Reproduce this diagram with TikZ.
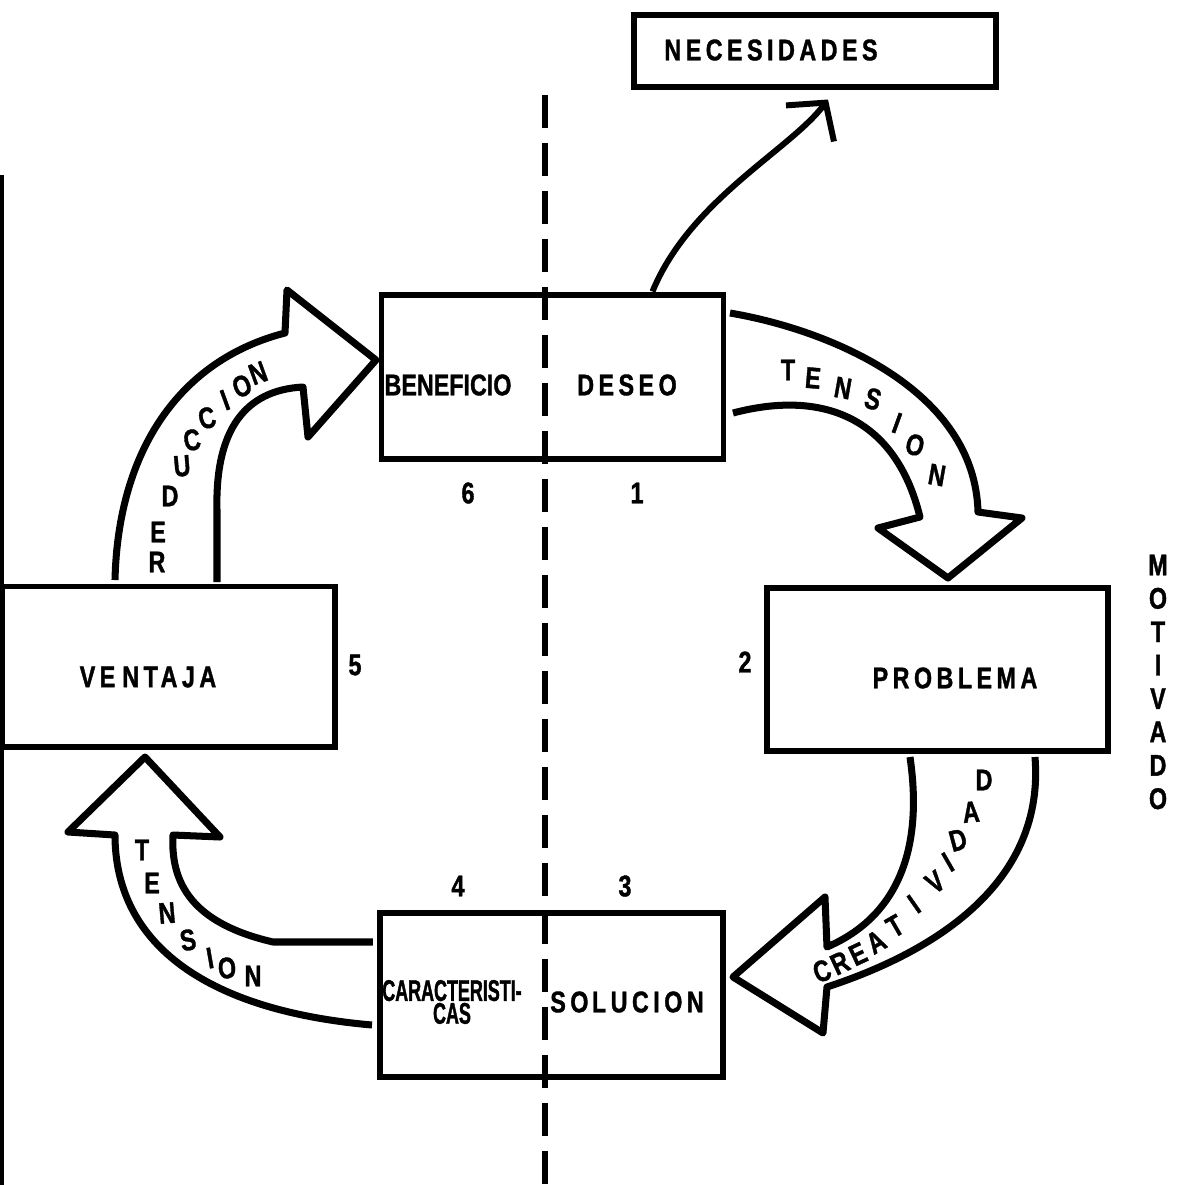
\documentclass[tikz,border=0pt]{standalone}
\usepackage{fontspec}
\newfontfamily\labfont[FakeStretch=0.78,BoldFeatures={FakeBold=1.2}]{Liberation Sans}
\newfontfamily\spacedfont[FakeStretch=0.78,LetterSpace=15,BoldFeatures={FakeBold=1.2}]{Liberation Sans}
\newfontfamily\tightfont[FakeStretch=0.6,BoldFeatures={FakeBold=1.2}]{Liberation Sans}
\usetikzlibrary{arrows.meta}

\begin{document}
\begin{tikzpicture}[
    box/.style={draw, line width=1.7pt, inner sep=0pt},
    txt/.style={inner sep=1pt, font=\fontsize{8.5}{9}\selectfont\labfont\bfseries},
    stxt/.style={inner sep=1pt, font=\fontsize{8.5}{9}\selectfont\spacedfont\bfseries},
    letter/.style={inner sep=0pt, font=\fontsize{8.5}{9}\selectfont\labfont\bfseries},
    hollow/.style={line width=2pt, line join=round},
    dashline/.style={line width=1.5pt, dash pattern=on 3.3mm off 1.5mm}]
  \useasboundingbox (0,0) rectangle (11.82,-11.85);

  % boxes
  \node[box, minimum width=3.62cm, minimum height=0.72cm] (nec) at (8.15,-0.505) {};
  \node[box, minimum width=3.42cm, minimum height=1.64cm] (top) at (5.525,-3.765) {};
  \node[box, minimum width=3.33cm, minimum height=1.60cm] (ventaja) at (1.685,-6.665) {};
  \node[box, minimum width=3.41cm, minimum height=1.63cm] (problema) at (9.375,-6.695) {};
  \node[box, minimum width=3.43cm, minimum height=1.64cm] (bottom) at (5.515,-9.95) {};

  % texts
  \node[stxt] (nectxt) at (7.71,-0.50) {NECESIDADES};
  \node[txt] (beneficio) at (4.48,-3.85) {BENEFICIO};
  \node[stxt] (deseo) at (6.27,-3.85) {DESEO};
  \node[stxt] (ventajatxt) at (1.48,-6.77) {VE\hspace{2pt}NTAJA};
  \node[stxt] (problematxt) at (9.55,-6.78) {PROBLEMA};
  \node[txt, font=\fontsize{8.5}{6.5}\selectfont\tightfont\bfseries, align=center] (caract) at (4.52,-10.02) {CARACTERISTI-\\CAS};
  \node[stxt] (solucion) at (6.27,-10.02) {SO\hspace{1pt}LUCION};
  \node[txt, align=center, font=\fontsize{8.5}{9.5}\selectfont\labfont\bfseries] (motivado) at (11.58,-6.82)
    {M\\O\\T\\I\\V\\A\\D\\O};

  % numbers
  \node[txt] (n6) at (4.68,-4.93) {6};
  \node[txt] (n1) at (6.37,-4.93) {1};
  \node[txt] (n5) at (3.55,-6.65) {5};
  \node[txt] (n2) at (7.45,-6.62) {2};
  \node[txt] (n4) at (4.58,-8.86) {4};
  \node[txt] (n3) at (6.25,-8.86) {3};

  % axis and edge
  \draw[dashline] (5.45,-0.95) -- (5.45,-11.85);
  \draw[line width=0.9pt] (0.02,-1.75) -- (0.02,-11.85);

  % deseo -> necesidades
  \draw[line width=1.7pt, -{Straight Barb[length=2.6mm,width=6mm]}]
    ([xshift=1cm]top.north) .. controls (6.9,-2.0) and (7.9,-1.5) .. ([xshift=0.13cm,yshift=-0.1cm]nec.south);

  % reduccion
  \draw[hollow] (1.15,-5.80) .. controls (1.18,-4.5) and (1.8,-3.6) .. (2.85,-3.33)
    -- (2.87,-2.90) -- (3.76,-3.60) -- (3.08,-4.37) -- (3.03,-3.87)
    .. controls (2.45,-3.9) and (2.15,-4.3) .. (2.17,-5.1) -- (2.17,-5.82);
  % tension (top)
  \draw[hollow] (7.30,-3.13) .. controls (8.3,-3.3) and (9.75,-3.9) .. (9.78,-5.12)
    -- (10.22,-5.18) -- (9.48,-5.78) -- (8.78,-5.28) -- (9.20,-5.17)
    .. controls (8.95,-4.15) and (8.2,-3.9) .. (7.33,-4.13);
  % creatividad
  \draw[hollow] (9.10,-7.57) .. controls (9.25,-8.6) and (8.9,-9.2) .. (8.27,-9.47)
    -- (8.25,-8.97) -- (7.33,-9.77) -- (8.23,-10.33) -- (8.27,-9.87)
    .. controls (9.4,-9.5) and (10.45,-8.8) .. (10.35,-7.57);
  % tension (bottom)
  \draw[hollow] (3.73,-9.42) -- (2.73,-9.42) .. controls (2.0,-9.25) and (1.7,-8.9) .. (1.73,-8.35)
    -- (2.20,-8.37) -- (1.45,-7.57) -- (0.68,-8.32) -- (1.15,-8.35)
    .. controls (1.15,-9.4) and (2.0,-10.1) .. (3.72,-10.25);

  % letters along the arrows
  \foreach \ch/\x/\y/\a [count=\i] in {R/1.57/-5.62/0, E/1.58/-5.32/0, D/1.70/-4.96/0,
      U/1.82/-4.66/5, C/1.92/-4.40/10, C/2.07/-4.18/15, I/2.25/-4.00/20, O/2.42/-3.86/20, N/2.58/-3.73/20}
    \node[letter, rotate=\a] (red\i) at (\x,\y) {\ch};
  \foreach \ch/\x/\y/\a [count=\i] in {T/7.88/-3.70/0, E/8.13/-3.78/-5, N/8.43/-3.88/-10,
      S/8.73/-3.99/-15, I/8.97/-4.23/-20, O/9.15/-4.45/-15, N/9.37/-4.75/-10}
    \node[letter, rotate=\a] (tena\i) at (\x,\y) {\ch};
  \foreach \ch/\x/\y/\a [count=\i] in {C/8.22/-9.71/20, R/8.40/-9.63/25, E/8.58/-9.54/25,
      A/8.76/-9.42/30, T/8.95/-9.26/30, I/9.14/-9.04/35, V/9.35/-8.82/35, I/9.48/-8.62/30,
      D/9.58/-8.40/15, A/9.71/-8.12/5, D/9.84/-7.80/0}
    \node[letter, rotate=\a] (cre\i) at (\x,\y) {\ch};
  \foreach \ch/\x/\y/\a [count=\i] in {T/1.42/-8.50/0, E/1.52/-8.83/0, N/1.67/-9.13/5,
      S/1.88/-9.40/10, I/2.10/-9.58/10, O/2.27/-9.68/5, N/2.53/-9.76/0}
    \node[letter, rotate=\a] (tenb\i) at (\x,\y) {\ch};
\end{tikzpicture}
\end{document}
